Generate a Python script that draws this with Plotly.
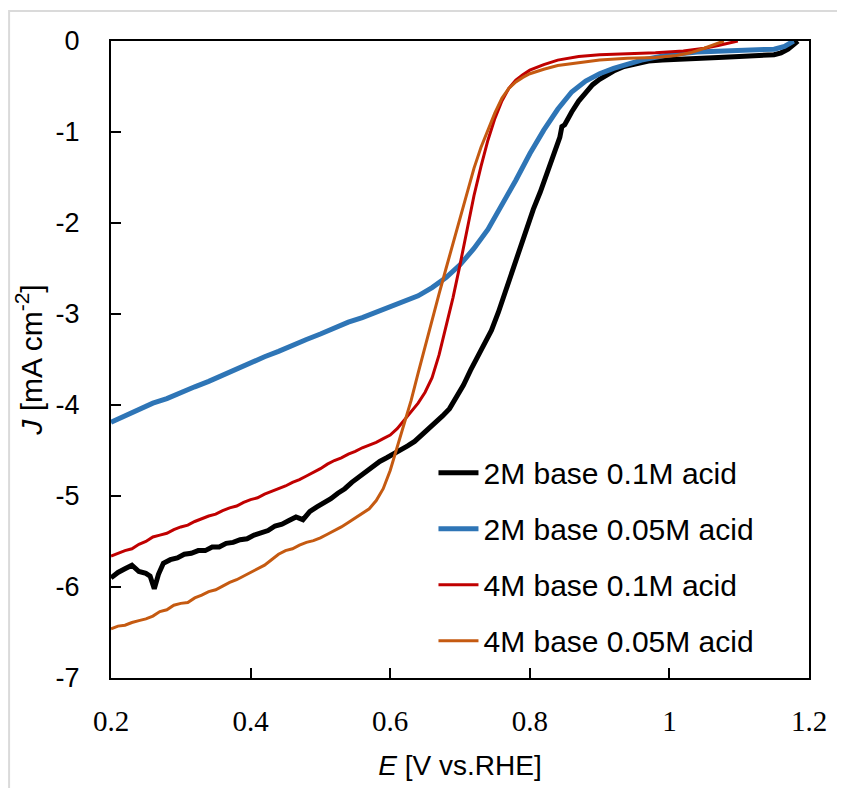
import plotly.graph_objects as go

# 2M base 0.1M acid
e_2m_01 = [0.200, 0.210, 0.220, 0.230, 0.240, 0.250, 0.256, 0.262, 0.268, 0.275, 0.285, 0.295,
           0.305, 0.315, 0.325, 0.335, 0.345, 0.355, 0.365, 0.375, 0.385, 0.395, 0.405, 0.415,
           0.425, 0.435, 0.445, 0.455, 0.465, 0.475, 0.485, 0.495, 0.505, 0.515, 0.525, 0.535,
           0.545, 0.555, 0.565, 0.575, 0.585, 0.595, 0.605, 0.615, 0.625, 0.635, 0.645, 0.655,
           0.665, 0.675, 0.685, 0.695, 0.705, 0.715, 0.725, 0.735, 0.745, 0.755, 0.765, 0.775,
           0.785, 0.795, 0.805, 0.815, 0.825, 0.835, 0.843, 0.846, 0.850, 0.860, 0.870, 0.880,
           0.890, 0.900, 0.910, 0.920, 0.935, 0.950, 0.970, 0.990, 1.010, 1.040, 1.070, 1.100,
           1.130, 1.150, 1.160, 1.170, 1.178, 1.184]
j_2m_01 = [-5.90, -5.84, -5.80, -5.76, -5.83, -5.85, -5.88, -6.02, -5.86, -5.74, -5.70, -5.68,
           -5.64, -5.63, -5.60, -5.60, -5.56, -5.56, -5.52, -5.51, -5.48, -5.47, -5.43, -5.40,
           -5.38, -5.33, -5.31, -5.27, -5.23, -5.26, -5.17, -5.12, -5.08, -5.03, -4.97, -4.92,
           -4.85, -4.79, -4.74, -4.68, -4.62, -4.58, -4.54, -4.50, -4.45, -4.40, -4.33, -4.27,
           -4.20, -4.12, -4.04, -3.92, -3.78, -3.62, -3.48, -3.34, -3.18, -2.98, -2.75, -2.52,
           -2.28, -2.05, -1.85, -1.66, -1.45, -1.22, -1.06, -0.94, -0.92, -0.78, -0.66, -0.57,
           -0.48, -0.42, -0.37, -0.33, -0.28, -0.25, -0.22, -0.21, -0.20, -0.19, -0.18, -0.17,
           -0.16, -0.15, -0.13, -0.09, -0.04, 0.0]

# 2M base 0.05M acid
e_2m_005 = [0.20, 0.22, 0.24, 0.26, 0.28, 0.30, 0.32, 0.34, 0.36, 0.38, 0.40, 0.42, 0.44, 0.46,
            0.48, 0.50, 0.52, 0.54, 0.56, 0.58, 0.60, 0.62, 0.64, 0.66, 0.68, 0.70, 0.72, 0.74,
            0.76, 0.78, 0.80, 0.82, 0.84, 0.86, 0.88, 0.90, 0.92, 0.94, 0.96, 0.98, 1.00, 1.04,
            1.08, 1.12, 1.15, 1.165, 1.178]
j_2m_005 = [-4.19, -4.12, -4.05, -3.98, -3.93, -3.86, -3.80, -3.74, -3.67, -3.60, -3.53, -3.47,
            -3.41, -3.34, -3.28, -3.22, -3.15, -3.09, -3.04, -2.98, -2.93, -2.87, -2.80, -2.71,
            -2.60, -2.46, -2.28, -2.07, -1.81, -1.53, -1.24, -0.98, -0.75, -0.56, -0.44, -0.36,
            -0.30, -0.25, -0.21, -0.18, -0.15, -0.12, -0.11, -0.10, -0.09, -0.06, 0.0]

# 4M base 0.1M acid
e_4m_01 = [0.20, 0.21, 0.22, 0.23, 0.24, 0.25, 0.26, 0.27, 0.28, 0.29, 0.30, 0.31, 0.32, 0.33,
           0.34, 0.35, 0.36, 0.37, 0.38, 0.39, 0.40, 0.41, 0.42, 0.43, 0.44, 0.45, 0.46, 0.47,
           0.48, 0.49, 0.50, 0.51, 0.52, 0.53, 0.54, 0.55, 0.56, 0.57, 0.58, 0.59, 0.60, 0.61,
           0.62, 0.63, 0.64, 0.65, 0.66, 0.67, 0.68, 0.69, 0.70, 0.71, 0.72, 0.73, 0.74, 0.75,
           0.76, 0.77, 0.78, 0.79, 0.80, 0.82, 0.84, 0.87, 0.90, 0.94, 0.98, 1.02, 1.05, 1.07,
           1.085, 1.098]
j_4m_01 = [-5.66, -5.63, -5.60, -5.58, -5.53, -5.50, -5.45, -5.43, -5.41, -5.37, -5.34, -5.32,
           -5.28, -5.25, -5.22, -5.20, -5.16, -5.13, -5.11, -5.07, -5.04, -5.02, -4.98, -4.95,
           -4.92, -4.89, -4.85, -4.82, -4.78, -4.74, -4.70, -4.65, -4.61, -4.58, -4.54, -4.51,
           -4.47, -4.44, -4.41, -4.37, -4.33, -4.26, -4.17, -4.07, -3.98, -3.86, -3.70, -3.45,
           -3.15, -2.82, -2.46, -2.08, -1.70, -1.38, -1.09, -0.85, -0.66, -0.52, -0.43, -0.37,
           -0.32, -0.26, -0.21, -0.17, -0.15, -0.14, -0.13, -0.11, -0.08, -0.05, -0.02, 0.0]

# 4M base 0.05M acid
e_4m_005 = [0.20, 0.21, 0.22, 0.23, 0.24, 0.25, 0.26, 0.27, 0.28, 0.29, 0.30, 0.31, 0.32, 0.33,
            0.34, 0.35, 0.36, 0.37, 0.38, 0.39, 0.40, 0.41, 0.42, 0.43, 0.44, 0.45, 0.46, 0.47,
            0.48, 0.49, 0.50, 0.51, 0.52, 0.53, 0.54, 0.55, 0.56, 0.57, 0.58, 0.59, 0.60, 0.61,
            0.62, 0.63, 0.64, 0.65, 0.66, 0.67, 0.68, 0.69, 0.70, 0.71, 0.72, 0.73, 0.74, 0.75,
            0.76, 0.77, 0.78, 0.79, 0.80, 0.82, 0.84, 0.87, 0.90, 0.94, 0.98, 1.01, 1.03, 1.05,
            1.065, 1.078]
j_4m_005 = [-6.46, -6.43, -6.42, -6.39, -6.37, -6.35, -6.32, -6.27, -6.25, -6.20, -6.18, -6.17,
            -6.12, -6.09, -6.05, -6.03, -5.99, -5.95, -5.92, -5.88, -5.84, -5.80, -5.76, -5.70,
            -5.64, -5.60, -5.58, -5.54, -5.51, -5.49, -5.46, -5.42, -5.38, -5.34, -5.29, -5.24,
            -5.19, -5.14, -5.05, -4.92, -4.72, -4.46, -4.20, -3.95, -3.65, -3.35, -3.06, -2.78,
            -2.50, -2.22, -1.94, -1.66, -1.40, -1.17, -0.97, -0.79, -0.63, -0.52, -0.45, -0.40,
            -0.36, -0.31, -0.27, -0.24, -0.21, -0.19, -0.18, -0.16, -0.13, -0.08, -0.04, 0.0]

y_ticks = [0, -1, -2, -3, -4, -5, -6, -7]
y_tick_text = ["0", "-1", "-2", "-3", "-4", "-5", "-6", "-7"]

series = [
    ("2M base 0.1M acid", e_2m_01, j_2m_01, "#000000", 5),
    ("2M base 0.05M acid", e_2m_005, j_2m_005, "#2e75b6", 5),
    ("4M base 0.1M acid", e_4m_01, j_4m_01, "#c00000", 3),
    ("4M base 0.05M acid", e_4m_005, j_4m_005, "#c55a11", 3),
]

fig = go.Figure()
for i, (name, e, j, color, w) in enumerate(series):
    fig.add_trace(go.Scatter(x=e, y=j, mode="lines", name=name, legendgroup=str(i),
                             line=dict(color=color, width=w)))

# page body adds ~7px offset, so the figure is a bit smaller and margins are pulled in
fig.update_layout(
    width=830, height=780,
    margin=dict(l=103, r=29, t=33, b=110, autoexpand=False),
    paper_bgcolor="white", plot_bgcolor="white",
    font=dict(family="Liberation Sans, Arial, sans-serif", color="black"),
    showlegend=True,
    legend=dict(x=0.462, y=0.363, xanchor="left", yanchor="top",
                font=dict(size=30, family="Liberation Sans, Arial, sans-serif"),
                bgcolor="rgba(0,0,0,0)", tracegroupgap=14, itemwidth=40),
)

fig.update_xaxes(
    range=[0.2, 1.2], tick0=0.2, dtick=0.2,
    showgrid=False, zeroline=False, automargin=False,
    showline=True, linecolor="black", linewidth=2, mirror=True,
    ticks="inside", ticklen=10, tickwidth=1.5, tickcolor="black",
    tickfont=dict(family="Liberation Serif, Times New Roman, serif", size=29),
    ticklabelstandoff=16,
    title=dict(text="<i>E</i> [V vs.RHE]", font=dict(size=28), standoff=20),
)
fig.update_yaxes(
    range=[-7, 0], tickvals=y_ticks, ticktext=y_tick_text,
    showgrid=False, zeroline=False, automargin=False,
    showline=True, linecolor="black", linewidth=2, mirror=True,
    ticks="inside", ticklen=10, tickwidth=1.5, tickcolor="black",
    tickfont=dict(size=27),
    ticklabelstandoff=24,
    title=dict(text="<i>J</i> [mA cm<sup>-2</sup>]", font=dict(size=30), standoff=4),
)

# light grey frame: only the top and left edges are visible in the picture
fig.add_shape(type="path", xref="paper", yref="paper",
              path="M -0.146,-0.2 L -0.146,1.047 L 1.1,1.047",
              line=dict(color="#dadada", width=2), layer="below")

fig.write_html("out.html")
